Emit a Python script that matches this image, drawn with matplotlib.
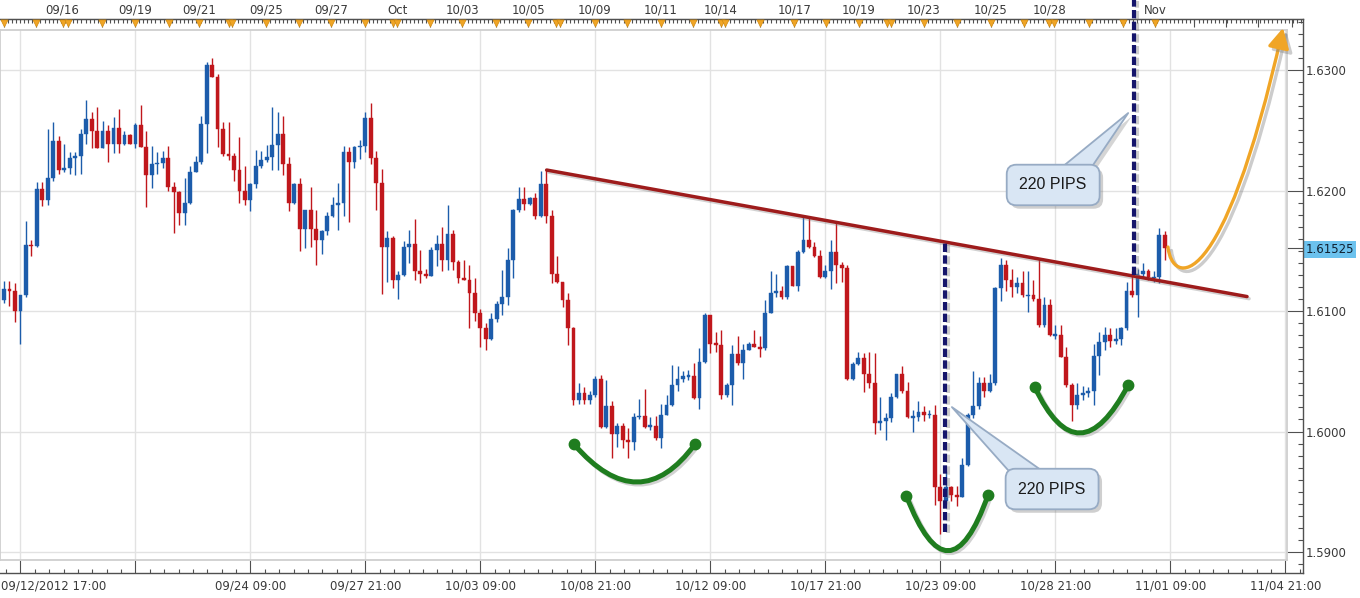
import matplotlib
matplotlib.use("Agg")
import matplotlib.pyplot as plt
import matplotlib.patheffects as pe
from matplotlib.path import Path
from matplotlib.patches import PathPatch, FancyArrowPatch
from matplotlib.ticker import FixedLocator
import numpy as np

# GBP/USD 4h candles, in pips (16118 = 1.6118).
# open of each candle = close of the one before
first_open = 16109
close_pips = [
    16118, 16117, 16100, 16113, 16155, 16154, 16201, 16192, 16210, 16241,
    16217, 16219, 16227, 16229, 16247, 16259, 16249, 16235, 16249, 16239,
    16252, 16239, 16246, 16239, 16254, 16236, 16213, 16222, 16223, 16227,
    16203, 16199, 16181, 16190, 16215, 16224, 16255, 16304, 16294, 16251,
    16230, 16229, 16217, 16200, 16192, 16205, 16220, 16225, 16228, 16238,
    16247, 16222, 16190, 16205, 16168, 16184, 16168, 16159, 16166, 16179,
    16188, 16190, 16232, 16224, 16236, 16237, 16260, 16227, 16206, 16153,
    16161, 16126, 16130,
    16153, 16156, 16133, 16131, 16129, 16151, 16156, 16142, 16164, 16141,
    16127, 16126, 16115, 16098, 16086, 16077, 16093, 16106, 16112, 16142,
    16184, 16193, 16189, 16194, 16179, 16205, 16179, 16131, 16124, 16109,
    16086, 16026, 16032, 16026, 16030, 16044, 16004, 16021, 15998, 16005,
    15993, 15991, 16012, 16013, 16004, 16005, 15995, 16014, 16022, 16039,
    16044, 16046, 16046, 16028, 16058, 16097, 16073, 16072, 16030, 16039,
    16064, 16057, 16068, 16073, 16070, 16069, 16098, 16115, 16117,
    16112, 16137, 16121, 16149, 16159, 16153, 16146, 16128, 16133, 16149,
    16138, 16136, 16044, 16056, 16061, 16048, 16040, 16007, 16009, 16011,
    16029, 16048, 16034, 16012, 16012, 16016, 16014, 16014, 15954, 15942,
    15954, 15947, 15946, 15972, 16014, 16021, 16040, 16034, 16040, 16119,
    16138, 16126, 16120, 16123, 16113, 16113, 16110, 16088, 16105, 16080,
    16080, 16062, 16039, 16022, 16030, 16032, 16034, 16063, 16074, 16080,
    16075, 16077, 16086, 16117, 16113, 16131, 16133, 16128, 16128, 16163,
    16152,
]
high_pips = [
    16125, 16125, 16123, 16113, 16175, 16159, 16207, 16207, 16251, 16257,
    16245, 16239, 16232, 16232, 16251, 16275, 16265, 16269, 16258, 16254,
    16261, 16268, 16249, 16247, 16256, 16271, 16249, 16237, 16232, 16233,
    16237, 16207, 16200, 16210, 16220, 16229, 16262, 16307, 16310, 16297,
    16257, 16257, 16231, 16244, 16220, 16206, 16234, 16233, 16238, 16269,
    16265, 16262, 16228, 16206, 16210, 16184, 16203, 16184, 16167, 16182,
    16195, 16206, 16237, 16236, 16237, 16242, 16265, 16273, 16233, 16218,
    16166, 16162, 16133,
    16158, 16167, 16176, 16151, 16135, 16153, 16163, 16170, 16188, 16167,
    16142, 16142, 16138, 16127, 16102, 16090, 16098, 16108, 16134, 16152,
    16185, 16203, 16203, 16195, 16198, 16216, 16218, 16184, 16146, 16124,
    16115, 16087, 16040, 16037, 16034, 16046, 16047, 16043, 16025, 16007,
    16007, 16003, 16015, 16027, 16035, 16012, 16013, 16023, 16030, 16055,
    16054, 16050, 16051, 16057, 16069, 16098, 16097, 16083, 16084, 16040,
    16072, 16079, 16073, 16074, 16084, 16079, 16109, 16133, 16131,
    16121, 16138, 16137, 16151, 16178, 16178, 16157, 16151, 16138, 16159,
    16174, 16141, 16138, 16058, 16066, 16065, 16066, 16065, 16029, 16015,
    16032, 16048, 16054, 16041, 16018, 16025, 16021, 16018, 16022, 15965,
    15967, 15955, 15955, 15978, 16015, 16050, 16045, 16045, 16048, 16120,
    16144, 16142, 16135, 16128, 16133, 16133, 16126, 16144, 16112, 16110,
    16088, 16088, 16070, 16040, 16040, 16038, 16037, 16073, 16083, 16087,
    16086, 16086, 16087, 16124, 16133, 16135, 16140, 16135, 16133, 16169,
    16166,
]
low_pips = [
    16107, 16104, 16091, 16073, 16112, 16146, 16153, 16187, 16188, 16208,
    16214, 16215, 16214, 16213, 16214, 16239, 16235, 16235, 16235, 16224,
    16231, 16231, 16238, 16239, 16235, 16236, 16186, 16202, 16214, 16219,
    16200, 16165, 16171, 16171, 16189, 16215, 16222, 16231, 16294, 16236,
    16229, 16225, 16208, 16190, 16188, 16183, 16202, 16219, 16224, 16217,
    16217, 16213, 16183, 16189, 16150, 16152, 16153, 16138, 16147, 16163,
    16178, 16167, 16179, 16174, 16219, 16226, 16232, 16222, 16184, 16114,
    16124, 16119, 16110,
    16129, 16140, 16126, 16123, 16127, 16129, 16137, 16133, 16134, 16134,
    16123, 16126, 16086, 16092, 16070, 16068, 16076, 16091, 16097, 16105,
    16127, 16182, 16184, 16188, 16176, 16178, 16173, 16123, 16123, 16103,
    16072, 16022, 16023, 16023, 16023, 16029, 16003, 16003, 15978, 15987,
    15986, 15978, 15985, 16010, 16003, 16001, 15993, 15986, 16014, 16021,
    16034, 16041, 16043, 16027, 16019, 16057, 16065, 16066, 16027, 16029,
    16022, 16055, 16044, 16068, 16070, 16062, 16068, 16098, 16112,
    16110, 16110, 16121, 16117, 16148, 16152, 16145, 16127, 16127, 16118,
    16123, 16124, 16043, 16043, 16055, 16033, 16036, 15998, 16001, 15993,
    16008, 16028, 16032, 16011, 16000, 16009, 16009, 16011, 15939, 15915,
    15940, 15942, 15938, 15946, 15971, 16011, 16019, 16029, 16033, 16039,
    16108, 16117, 16112, 16115, 16112, 16099, 16108, 16087, 16087, 16079,
    16077, 16062, 16037, 16009, 16019, 16026, 16029, 16022, 16047, 16068,
    16070, 16073, 16072, 16084, 16112, 16095, 16128, 16126, 16124, 16123,
    16142,
]

# bottom time axis (labelled every 21 bars, starting at bar 3)
bottom_labels = ["", "", "09/24 09:00", "09/27 21:00", "10/03 09:00", "10/08 21:00",
                 "10/12 09:00", "10/17 21:00", "10/23 09:00", "10/28 21:00",
                 "11/01 09:00", "11/04 21:00"]
first_label = "09/12/2012 17:00"

# top ruler: orange day/event markers and the dates written above some of them
event_bars = [0.0, 5.8, 10.7, 11.7, 17.9, 23.9, 30.1, 35.7, 41.0, 41.7, 47.9, 53.9,
              59.7, 65.9, 71.0, 71.8, 77.8, 83.7, 89.8, 95.7, 100.8, 101.5, 107.9,
              113.8, 120.0, 125.8, 130.9, 131.7, 138.1, 144.3, 150.2, 156.1, 161.2,
              162.0, 168.0, 174.0, 180.2, 186.2, 190.9, 191.7, 198.2, 204.3, 210.2]
future_day_bars = [217.3, 223.2, 229.0, 235.2]
top_label_bars = [10.7, 23.9, 35.7, 47.9, 59.7, 71.8, 83.7, 95.7, 107.9, 120.0,
                  130.9, 144.3, 156.1, 168.0, 180.2, 190.9, 210.2]
top_labels = ["09/16", "09/19", "09/21", "09/25", "09/27", "Oct", "10/03", "10/05",
              "10/09", "10/11", "10/14", "10/17", "10/19", "10/23", "10/25", "10/28", "Nov"]

price_ticks = [1.59, 1.60, 1.61, 1.62, 1.63]
last_price = 1.61525

# neckline
trend_bars = [99.1, 227.0]
trend_prices = [1.6217, 1.6112]

# the two 220 pip measurements
measure_bars = [171.8, 206.4]
measure_low = [1.59166, 1.61299]
measure_high = [1.61564, 1.63581]

# rounded bottoms: (left end, bottom, right end)
cup_bars = [(104.1, 115.6, 126.2), (164.8, 172.4, 179.7), (188.2, 196.5, 205.3)]
cup_prices = [(1.59894, 1.59581, 1.59896), (1.59465, 1.59011, 1.59473),
              (1.60372, 1.59988, 1.60386)]

# projected move, cubic Bezier control points
proj_bars = [212.56, 213.29, 222.43, 233.57]
proj_prices = [1.61531, 1.61216, 1.61091, 1.63349]

# callouts
callout_text = ["220 PIPS", "220 PIPS"]
callout_bars = [191.6, 191.4]
callout_prices = [1.62046, 1.59523]
tip_bars = [205.3, 173.1]
tip_prices = [1.62643, 1.60203]

BLUE = "#1c5cab"
RED = "#c0171c"
GREEN = "#1f7d1f"
ORANGE = "#f0a526"
NAVY = "#15156b"
TREND = "#9e1c1c"
TXT = "#3a3a3a"

close = np.array(close_pips) / 1e4
high = np.array(high_pips) / 1e4
low = np.array(low_pips) / 1e4
opn = np.concatenate([[first_open / 1e4], close[:-1]])
bars = np.arange(len(close))
colors = np.where(close >= opn, BLUE, RED)

# layout in pixels: left, top, right, bottom
W, H = 1360, 598
inner = (0, 30, 1287, 560)
outer = (0, 19, 1303, 573)
xlim = (-0.73, 234.3)
ylim = (1.58934, 1.63332)


def rect(box):
    l, t, r, b = box
    return [l / W, 1 - b / H, (r - l) / W, (b - t) / H]


sx = (xlim[1] - xlim[0]) / (inner[2] - inner[0])
sy = (ylim[1] - ylim[0]) / (inner[3] - inner[1])
oxlim = (xlim[0] - (inner[0] - outer[0]) * sx, xlim[1] + (outer[2] - inner[2]) * sx)
oylim = (ylim[0] - (outer[3] - inner[3]) * sy, ylim[1] + (inner[1] - outer[1]) * sy)

plt.rcParams["font.family"] = ["DejaVu Sans"]
fig = plt.figure(figsize=(W / 100, H / 100), dpi=100)

# ---- outer frame with the axes ----
axf = fig.add_axes(rect(outer))
axf.set_zorder(1)
axf.patch.set_visible(False)
axf.set_xlim(*oxlim)
axf.set_ylim(*oylim)
axf.spines["left"].set_visible(False)
for s in ("top", "right", "bottom"):
    axf.spines[s].set_color("#505050")
    axf.spines[s].set_linewidth(1.0)

major_x = [3 + 21 * k for k in range(len(bottom_labels))]
axf.set_xticks(major_x, bottom_labels)
axf.xaxis.set_minor_locator(FixedLocator(np.arange(3 - 21 / 8, oxlim[1], 21 / 8)))
axf.tick_params(axis="x", which="major", direction="in", length=9.4, width=0.8,
                color="#505050", labelsize=8.5, labelcolor=TXT, pad=4.5)
axf.tick_params(axis="x", which="minor", direction="in", length=3, width=0.8, color="#505050")

axf.yaxis.tick_right()
yt = price_ticks[:3] + [last_price] + price_ticks[3:]
axf.set_yticks(yt, ["%.4f" % v for v in price_ticks[:3]] + ["%.5f" % last_price]
               + ["%.4f" % v for v in price_ticks[3:]])
axf.yaxis.set_minor_locator(FixedLocator(np.arange(1.588, 1.6345, 0.001)))
axf.tick_params(axis="y", which="major", direction="in", length=11.5, width=0.8,
                color="#505050", labelsize=8.5, labelcolor=TXT, pad=2)
axf.tick_params(axis="y", which="minor", direction="in", length=3.6, width=0.8, color="#505050")
lbl = axf.get_yticklabels()[3]
lbl.set_bbox(dict(boxstyle="square,pad=0.15", fc="#6cc2ee", ec="none"))
lbl.set_color("#102030")

fig.text(1 / W, 1 - (573 + 6.2) / H, first_label, ha="left", va="top",
         fontsize=8.5, color=TXT)

# top ruler
sec = axf.secondary_xaxis("top")
day_bars = event_bars + future_day_bars
sec.set_xticks(day_bars, [top_labels[top_label_bars.index(b)] if b in top_label_bars else ""
                          for b in day_bars])
sec.xaxis.set_minor_locator(FixedLocator(np.arange(5.9 - 0.75 * 8, oxlim[1], 0.75)))
sec.tick_params(which="major", direction="in", length=5.5, width=0.8, color="#505050",
                labelsize=8.5, labelcolor=TXT, pad=1.5)
sec.tick_params(which="minor", direction="in", length=3, width=0.8, color="#505050")
sec.spines["top"].set_color("#505050")
axf.scatter(event_bars, np.full(len(event_bars), oylim[1] - 3.6 * sy), marker="v", s=26,
            color=ORANGE, edgecolors="#d08a10", linewidths=0.5, clip_on=False, zorder=5)

# ---- plot area ----
ax = fig.add_axes(rect(inner))
ax.set_zorder(2)
ax.set_xlim(*xlim)
ax.set_ylim(*ylim)
ax.set_xticks(major_x)
ax.set_yticks(price_ticks)
ax.tick_params(length=0, labelbottom=False, labelleft=False)
ax.grid(True, color="#e2e2e2", lw=1)
ax.set_axisbelow(True)
for s in ax.spines.values():
    s.set_color("#cfcfcf")
    s.set_linewidth(1.3)

# candles
ax.vlines(bars, low, high, colors=colors, lw=1.0, zorder=2)
body = np.maximum(np.abs(close - opn), 0.00012)
ax.bar(bars, body, bottom=(close + opn) / 2 - body / 2, width=0.7, color=colors,
       edgecolor=colors, linewidth=0.3, zorder=3)

line_shadow = [pe.SimpleLineShadow(offset=(1.5, -1.5), shadow_color="#808080", alpha=0.35),
               pe.Normal()]

# neckline
ax.plot(trend_bars, trend_prices, color=TREND, lw=2.5, solid_capstyle="round",
        path_effects=line_shadow, zorder=5)

# rounded bottoms
for xs, ys in zip(cup_bars, cup_prices):
    ctrl = (2 * xs[1] - (xs[0] + xs[2]) / 2, 2 * ys[1] - (ys[0] + ys[2]) / 2)
    cup = Path([(xs[0], ys[0]), ctrl, (xs[2], ys[2])], [Path.MOVETO, Path.CURVE3, Path.CURVE3])
    ax.add_patch(PathPatch(cup, fill=False, ec=GREEN, lw=3.6, capstyle="round",
                           path_effects=line_shadow, zorder=5))
    ax.plot([xs[0], xs[2]], [ys[0], ys[2]], "o", color=GREEN, ms=7.5, zorder=5)

# 220 pip measurements
for xb, lo, hi in zip(measure_bars, measure_low, measure_high):
    ax.plot([xb, xb], [lo, hi], color=NAVY, lw=3.0, dashes=(2.0, 0.8),
            solid_capstyle="butt", clip_on=False, zorder=7,
            path_effects=[pe.SimpleLineShadow(offset=(2, -1), shadow_color="#808080", alpha=0.4),
                          pe.Normal()])

# projected move
proj = Path(list(zip(proj_bars, proj_prices)),
            [Path.MOVETO, Path.CURVE4, Path.CURVE4, Path.CURVE4])
arrow = FancyArrowPatch(path=proj, arrowstyle="-|>,head_length=0.6,head_width=0.32",
                        mutation_scale=20, color=ORANGE, lw=2.4, clip_on=False, zorder=6,
                        path_effects=[pe.SimpleLineShadow(offset=(2.5, -2.5), shadow_color="#808080",
                                                          alpha=0.4), pe.Normal()])
ax.add_patch(arrow)

# callouts
for txt, bx, by, tx, ty, rp in zip(callout_text, callout_bars, callout_prices,
                                   tip_bars, tip_prices, [(0.74, 1.0), (0.25, 1.0)]):
    ann = ax.annotate(txt, xy=(tx, ty), xytext=(bx, by), ha="center", va="center",
                      fontsize=11.5, family=["Liberation Sans", "DejaVu Sans"], color="#1a1a1a",
                      bbox=dict(boxstyle="round,pad=0.8,rounding_size=0.6", fc="#d9e6f4",
                                ec="#97abc4", lw=1.3),
                      arrowprops=dict(arrowstyle="wedge,tail_width=1.6,shrink_factor=0.5",
                                      fc="#d9e6f4", ec="#97abc4", lw=1.3, relpos=rp,
                                      shrinkA=0, shrinkB=0, patchA=None),
                      zorder=8)
    ann.get_bbox_patch().set_path_effects(
        [pe.SimplePatchShadow(offset=(2.5, -2.5), shadow_rgbFace="#777777", alpha=0.35),
         pe.Normal()])
    ann.arrow_patch.set_path_effects(
        [pe.SimplePatchShadow(offset=(2.5, -2.5), shadow_rgbFace="#777777", alpha=0.3),
         pe.Normal()])

fig.savefig("out.png", dpi=100)
